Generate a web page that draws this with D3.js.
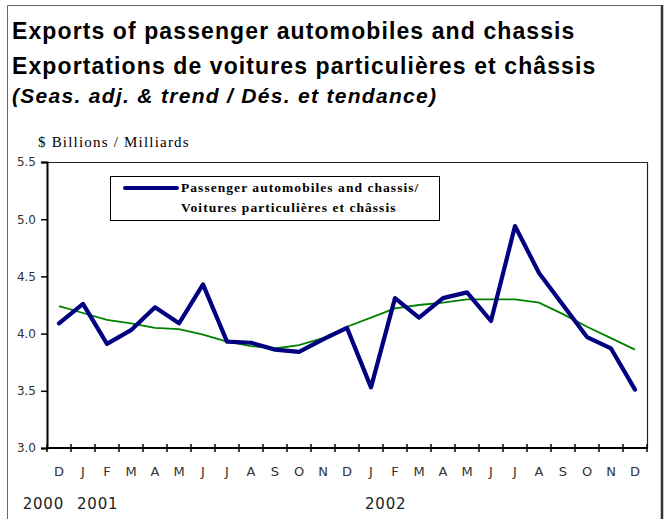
<!DOCTYPE html>
<html>
<head>
<meta charset="utf-8">
<script src="https://cdn.jsdelivr.net/npm/d3@7"></script>
<style>
  body { margin: 0; background: #fff; }
  svg { display: block; }
</style>
</head>
<body>
<div id="chart"></div>
<script>
// month labels, Dec 2000 .. Dec 2002
var months = ["D","J","F","M","A","M","J","J","A","S","O","N","D",
              "J","F","M","A","M","J","J","A","S","O","N","D"];
var years = [{label: "2000", i: 0}, {label: "2001", i: 1}, {label: "2002", i: 13}];

// seasonally adjusted exports, $ billions
var seasAdj = [4.09, 4.26, 3.91, 4.03, 4.23, 4.09, 4.43, 3.93, 3.92, 3.86, 3.84, 3.95, 4.05,
               3.53, 4.31, 4.14, 4.31, 4.36, 4.11, 4.94, 4.53, 4.25, 3.97, 3.87, 3.51];
// trend
var trend = [4.24, 4.18, 4.12, 4.09, 4.05, 4.04, 3.99, 3.93, 3.89, 3.87, 3.90, 3.96, 4.06,
             4.14, 4.22, 4.25, 4.27, 4.30, 4.30, 4.30, 4.27, 4.17, 4.06, 3.96, 3.86];

var yTicks = [3.0, 3.5, 4.0, 4.5, 5.0, 5.5];

var W = 665, H = 519;
var svg = d3.select("#chart").append("svg")
    .attr("width", W)
    .attr("height", H);

// outer frame
svg.append("path")
    .attr("d", "M7.5,519 V5.5 H662")
    .attr("fill", "none")
    .attr("stroke", "#666")
    .attr("stroke-width", 1);
svg.append("line")
    .attr("x1", 662).attr("x2", 662).attr("y1", 5).attr("y2", 519)
    .attr("stroke", "#333").attr("stroke-width", 2.5);

// titles
svg.append("text").attr("x", 12).attr("y", 39)
    .attr("font-family", "Liberation Sans, Arial, sans-serif")
    .attr("font-weight", "bold").attr("font-size", "23px")
    .attr("letter-spacing", "1.1px")
    .text("Exports of passenger automobiles and chassis");
svg.append("text").attr("x", 12).attr("y", 74)
    .attr("font-family", "Liberation Sans, Arial, sans-serif")
    .attr("font-weight", "bold").attr("font-size", "23px")
    .attr("letter-spacing", "1.1px")
    .text("Exportations de voitures particulières et châssis");
svg.append("text").attr("x", 12).attr("y", 103)
    .attr("font-family", "Liberation Sans, Arial, sans-serif")
    .attr("font-weight", "bold").attr("font-style", "italic").attr("font-size", "21px")
    .attr("letter-spacing", "1.3px")
    .text("(Seas. adj. & trend / Dés. et tendance)");
svg.append("text").attr("x", 38).attr("y", 147)
    .attr("font-family", "Liberation Serif, Times New Roman, serif")
    .attr("font-size", "15px")
    .attr("letter-spacing", "1.2px")
    .text("$ Billions / Milliards");

var pLeft = 47, pRight = 647, pTop = 162, pBottom = 448;

var x = d3.scaleBand()
    .domain(d3.range(months.length))
    .range([pLeft, pRight]);

var y = d3.scaleLinear()
    .domain([3.0, 5.5])
    .range([pBottom, pTop]);

// plot frame top/right
svg.append("path")
    .attr("d", "M" + pLeft + "," + (pTop + 0.5) + " H" + (pRight + 0.5) + " V" + pBottom)
    .attr("fill", "none")
    .attr("stroke", "#222")
    .attr("stroke-width", 1.2);

// y axis
var yAxis = svg.append("g")
    .attr("transform", "translate(" + pLeft + ",0)")
    .call(d3.axisLeft(y).tickValues(yTicks).tickFormat(d3.format(".1f")).tickSize(6).tickPadding(5));
yAxis.select(".domain").attr("stroke", "#000").attr("stroke-width", 2);
yAxis.selectAll(".tick line").attr("stroke", "#000").attr("stroke-width", 1.5);
yAxis.selectAll(".tick text")
    .attr("font-family", "DejaVu Sans, Verdana, sans-serif")
    .attr("font-size", "12px")
    .attr("fill", "#333");

// x axis: ticks on category boundaries
var xAxis = svg.append("g")
    .attr("transform", "translate(0," + pBottom + ")");
xAxis.append("line")
    .attr("x1", pLeft).attr("x2", pRight + 1)
    .attr("stroke", "#000").attr("stroke-width", 2);
xAxis.selectAll(".xtick")
    .data(d3.range(months.length + 1))
    .enter().append("line")
    .attr("class", "xtick")
    .attr("x1", function(d) { return d === months.length ? pRight : x(d); })
    .attr("x2", function(d) { return d === months.length ? pRight : x(d); })
    .attr("y1", -4).attr("y2", 4)
    .attr("stroke", "#000").attr("stroke-width", 1.5);
xAxis.selectAll(".mlabel")
    .data(months)
    .enter().append("text")
    .attr("class", "mlabel")
    .attr("x", function(d, i) { return x(i) + x.bandwidth() / 2; })
    .attr("y", 28)
    .attr("text-anchor", "middle")
    .attr("font-family", "DejaVu Sans, Verdana, sans-serif")
    .attr("font-size", "13px")
    .attr("fill", "#333")
    .text(function(d) { return d; });
// first year label sits left of its month, the others start just after the band edge
xAxis.selectAll(".ylabel")
    .data(years)
    .enter().append("text")
    .attr("class", "ylabel")
    .attr("x", function(d, k) { return k === 0 ? x(d.i + 1) - 7 : x(d.i) + 6; })
    .attr("y", 61)
    .attr("text-anchor", function(d, k) { return k === 0 ? "end" : "start"; })
    .attr("font-family", "DejaVu Sans, Verdana, sans-serif")
    .attr("font-size", "15px")
    .attr("letter-spacing", "0.8px")
    .attr("fill", "#222")
    .text(function(d) { return d.label; });

var line = d3.line()
    .x(function(d, i) { return x(i) + x.bandwidth() / 2; })
    .y(function(d) { return y(d); });

svg.append("path")
    .datum(trend)
    .attr("d", line)
    .attr("fill", "none")
    .attr("stroke", "#008000")
    .attr("stroke-width", 1.8);

svg.append("path")
    .datum(seasAdj)
    .attr("d", line)
    .attr("fill", "none")
    .attr("stroke", "#000080")
    .attr("stroke-width", 4.2)
    .attr("stroke-linejoin", "round")
    .attr("stroke-linecap", "round");

// legend
var lg = svg.append("g");
lg.append("rect")
    .attr("x", 110.5).attr("y", 176.5)
    .attr("width", 329).attr("height", 44)
    .attr("fill", "#fff").attr("stroke", "#000").attr("stroke-width", 1);
lg.append("line")
    .attr("x1", 125).attr("x2", 177).attr("y1", 188).attr("y2", 188)
    .attr("stroke", "#000080").attr("stroke-width", 4).attr("stroke-linecap", "round");
lg.append("text").attr("x", 181).attr("y", 192)
    .attr("font-family", "Liberation Serif, Times New Roman, serif")
    .attr("font-weight", "bold").attr("font-size", "13.5px")
    .attr("letter-spacing", "1.05px")
    .text("Passenger automobiles and chassis/");
lg.append("text").attr("x", 181).attr("y", 212)
    .attr("font-family", "Liberation Serif, Times New Roman, serif")
    .attr("font-weight", "bold").attr("font-size", "13.5px")
    .attr("letter-spacing", "1.05px")
    .text("Voitures particulières et châssis");
</script>
</body>
</html>
